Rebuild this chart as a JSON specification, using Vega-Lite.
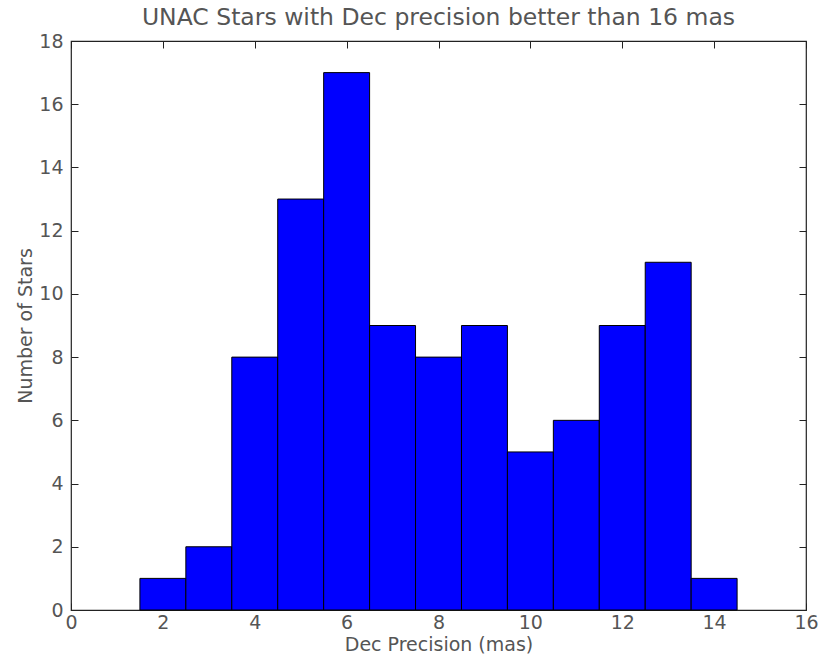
{
  "$schema": "https://vega.github.io/schema/vega-lite/v6.json",
  "autosize": {"type": "none"},
  "padding": {"left": 71, "top": 41, "right": 21, "bottom": 46},
  "width": 735,
  "height": 569,
  "background": "white",
  "title": {
    "text": "UNAC Stars with Dec precision better than 16 mas",
    "font": "DejaVu Sans",
    "fontSize": 23.5,
    "fontWeight": "normal",
    "color": "#555",
    "anchor": "middle",
    "offset": 3
  },
  "config": {
    "view": {"stroke": "#222", "strokeWidth": 1.2},
    "axis": {
      "grid": false,
      "domain": false,
      "labelFlush": false,
      "tickColor": "#222",
      "tickSize": -7,
      "tickWidth": 1,
      "labelFont": "DejaVu Sans",
      "labelFontSize": 19,
      "labelColor": "#555",
      "titleFont": "DejaVu Sans",
      "titleFontSize": 19,
      "titleFontWeight": "normal",
      "titleColor": "#555"
    }
  },
  "data": {
    "values": [
      {"lo": 1.5, "hi": 2.5, "count": 1},
      {"lo": 2.5, "hi": 3.5, "count": 2},
      {"lo": 3.5, "hi": 4.5, "count": 8},
      {"lo": 4.5, "hi": 5.5, "count": 13},
      {"lo": 5.5, "hi": 6.5, "count": 17},
      {"lo": 6.5, "hi": 7.5, "count": 9},
      {"lo": 7.5, "hi": 8.5, "count": 8},
      {"lo": 8.5, "hi": 9.5, "count": 9},
      {"lo": 9.5, "hi": 10.5, "count": 5},
      {"lo": 10.5, "hi": 11.5, "count": 6},
      {"lo": 11.5, "hi": 12.5, "count": 9},
      {"lo": 12.5, "hi": 13.5, "count": 11},
      {"lo": 13.5, "hi": 14.5, "count": 1}
    ]
  },
  "layer": [
    {
      "mark": {"type": "bar", "color": "#0000ff", "stroke": "#000", "strokeWidth": 1},
      "encoding": {
        "x": {
          "field": "lo", "type": "quantitative",
          "scale": {"domain": [0, 16], "nice": false, "zero": false},
          "axis": {"orient": "bottom", "values": [0, 2, 4, 6, 8, 10, 12, 14, 16], "title": "Dec Precision (mas)", "labelPadding": 10, "titlePadding": 3}
        },
        "x2": {"field": "hi"},
        "y": {
          "field": "count", "type": "quantitative",
          "scale": {"domain": [0, 18], "nice": false},
          "axis": {"orient": "left", "values": [0, 2, 4, 6, 8, 10, 12, 14, 16, 18], "title": "Number of Stars", "labelPadding": 15, "titlePadding": 3}
        },
        "y2": {"datum": 0}
      }
    },
    {
      "mark": {"type": "bar", "opacity": 0},
      "encoding": {
        "x": {
          "field": "lo", "type": "quantitative",
          "axis": {"orient": "top", "values": [0, 2, 4, 6, 8, 10, 12, 14, 16], "labels": false, "title": null}
        },
        "x2": {"field": "hi"},
        "y": {
          "field": "count", "type": "quantitative",
          "axis": {"orient": "right", "values": [0, 2, 4, 6, 8, 10, 12, 14, 16, 18], "labels": false, "title": null}
        },
        "y2": {"datum": 0}
      }
    }
  ],
  "resolve": {"axis": {"x": "independent", "y": "independent"}}
}
